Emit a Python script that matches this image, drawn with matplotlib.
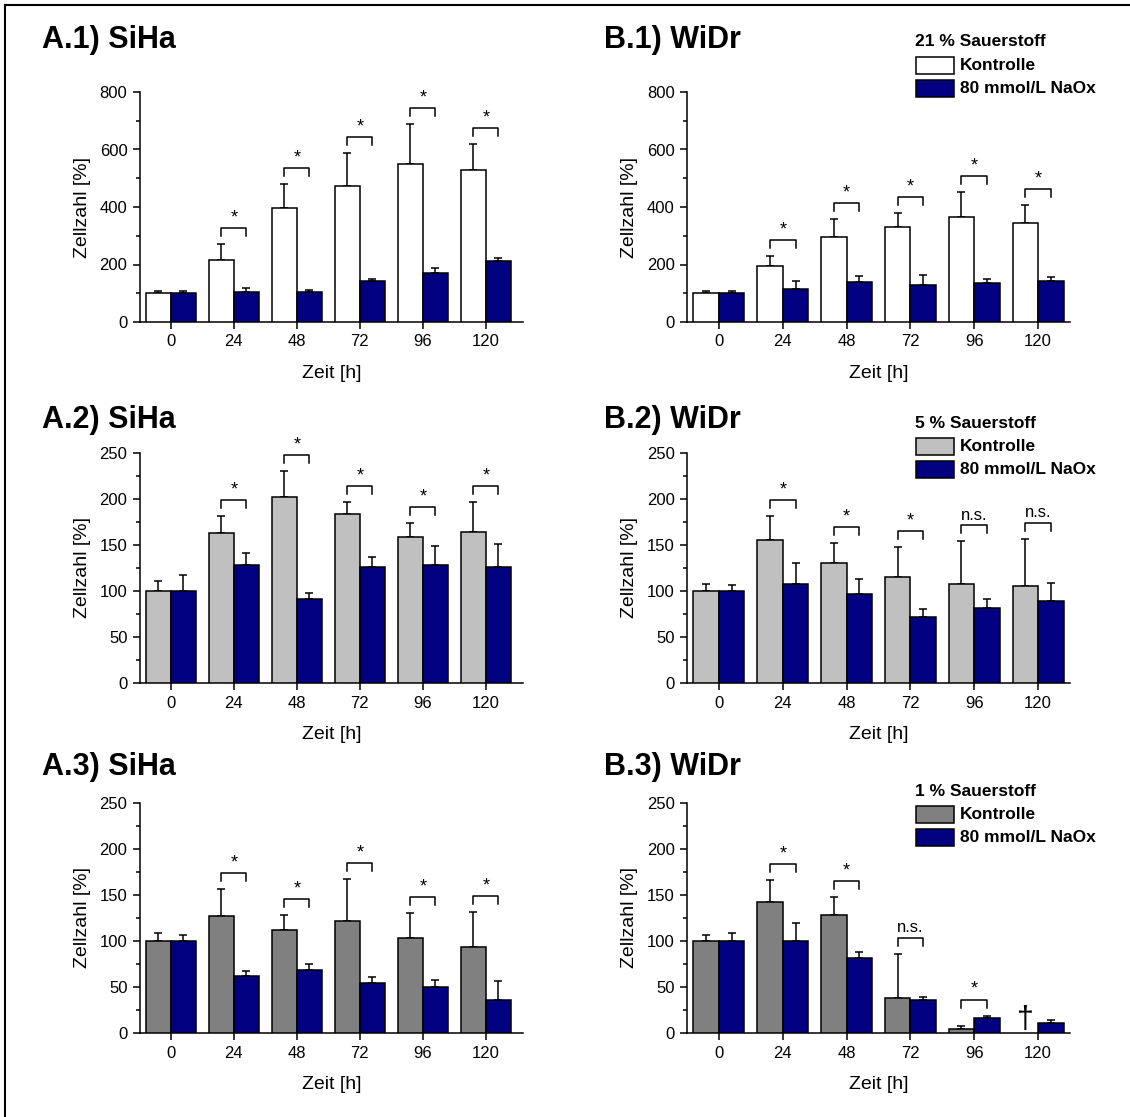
"""Zellzahl von SiHa und WiDr unter NaOx bei 21 %, 5 % und 1 % Sauerstoff."""

import numpy as np
import matplotlib

matplotlib.use("Agg")
import matplotlib.pyplot as plt
from matplotlib.lines import Line2D
from matplotlib.patches import Rectangle
from matplotlib.ticker import MultipleLocator

plt.rcParams["font.family"] = ["Liberation Sans", "DejaVu Sans"]

hours = ["0", "24", "48", "72", "96", "120"]

# A.1) SiHa, 21 % O2
siha21_ctrl = [100, 217, 398, 474, 550, 530]
siha21_ctrl_sd = [7, 54, 81, 114, 139, 89]
siha21_naox = [100, 105, 105, 141, 170, 212]
siha21_naox_sd = [9, 13, 5, 10, 18, 11]
siha21_sig = ["", "*", "*", "*", "*", "*"]

# B.1) WiDr, 21 % O2
widr21_ctrl = [100, 196, 294, 332, 364, 345]
widr21_ctrl_sd = [7, 32, 63, 46, 87, 61]
widr21_naox = [100, 116, 140, 128, 136, 141]
widr21_naox_sd = [9, 26, 20, 34, 15, 14]
widr21_sig = ["", "*", "*", "*", "*", "*"]

# A.2) SiHa, 5 % O2
siha5_ctrl = [100, 163, 202, 184, 159, 164]
siha5_ctrl_sd = [11, 18, 28, 13, 15, 33]
siha5_naox = [100, 128, 91, 126, 128, 126]
siha5_naox_sd = [17, 13, 7, 11, 21, 25]
siha5_sig = ["", "*", "*", "*", "*", "*"]

# B.2) WiDr, 5 % O2
widr5_ctrl = [100, 155, 130, 115, 108, 105]
widr5_ctrl_sd = [8, 26, 22, 33, 46, 52]
widr5_naox = [100, 108, 97, 72, 81, 89]
widr5_naox_sd = [7, 22, 16, 8, 10, 20]
widr5_sig = ["", "*", "*", "*", "n.s.", "n.s."]

# A.3) SiHa, 1 % O2
siha1_ctrl = [100, 127, 112, 122, 103, 93]
siha1_ctrl_sd = [9, 30, 16, 45, 27, 39]
siha1_naox = [100, 62, 68, 54, 50, 36]
siha1_naox_sd = [6, 5, 7, 7, 8, 20]
siha1_sig = ["", "*", "*", "*", "*", "*"]

# B.3) WiDr, 1 % O2 (Kontrolle bei 120 h abgestorben)
widr1_ctrl = [100, 142, 128, 38, 4, np.nan]
widr1_ctrl_sd = [6, 24, 20, 48, 4, np.nan]
widr1_naox = [100, 100, 81, 36, 16, 11]
widr1_naox_sd = [9, 20, 7, 3, 3, 3]
widr1_sig = ["", "*", "*", "n.s.", "*", ""]
widr1_dead = [False, False, False, False, False, True]

NAVY = "#000080"
W, H = 1130, 1117
BAR_W = 0.4


def fx(px):
    return px / W


def fy(py):
    return 1 - py / H


def make_axes(fig, left, right, top, bottom):
    return fig.add_axes([fx(left), fy(bottom), fx(right - left), (bottom - top) / H])


def draw_panel(ax, ctrl, ctrl_sd, naox, naox_sd, sig, ctrl_color, ymax, ystep, xlim, dead=None):
    x = np.arange(len(hours))
    ctrl = np.asarray(ctrl, float)
    naox = np.asarray(naox, float)
    ctrl_sd = np.asarray(ctrl_sd, float)
    naox_sd = np.asarray(naox_sd, float)

    ok = ~np.isnan(ctrl)
    ax.bar(x[ok] - BAR_W / 2, ctrl[ok], BAR_W, color=ctrl_color,
           edgecolor="black", linewidth=1.1, zorder=3)
    ax.bar(x + BAR_W / 2, naox, BAR_W, color=NAVY,
           edgecolor="black", linewidth=1.1, zorder=3)
    ax.errorbar(x[ok] - BAR_W / 2, ctrl[ok], yerr=[np.zeros(ok.sum()), ctrl_sd[ok]],
                fmt="none", ecolor="black", elinewidth=1.1, capsize=3.2, capthick=1.1, zorder=2)
    ax.errorbar(x + BAR_W / 2, naox, yerr=[np.zeros(len(x)), naox_sd],
                fmt="none", ecolor="black", elinewidth=1.1, capsize=3.2, capthick=1.1, zorder=2)

    # significance brackets
    unit = ymax / 230.0  # data units per pixel
    for i, s in enumerate(sig):
        if not s:
            continue
        tops = [naox[i] + naox_sd[i]]
        if ok[i]:
            tops.append(ctrl[i] + ctrl_sd[i])
        top = max(tops) + 16 * unit
        leg = 8 * unit
        ax.plot([i - BAR_W / 2, i - BAR_W / 2, i + BAR_W / 2, i + BAR_W / 2],
                [top - leg, top, top, top - leg], color="black", lw=1.1,
                clip_on=False, zorder=4)
        ax.annotate(s, (i, top), xytext=(0, 4), textcoords="offset points",
                    ha="center", va="baseline", fontsize=13 if s == "*" else 12)

    if dead is not None:
        for i, d in enumerate(dead):
            if d:
                ax.text(i - BAR_W / 2, -2 * unit, "\u2020", ha="center", va="bottom",
                        fontsize=22, zorder=4, clip_on=False)

    ax.set_xlim(*xlim)
    ax.set_ylim(0, ymax)
    ax.set_xticks(x)
    ax.set_xticklabels(hours)
    ax.yaxis.set_major_locator(MultipleLocator(ystep))
    ax.yaxis.set_minor_locator(MultipleLocator(ystep / 2))
    for side in ("top", "right"):
        ax.spines[side].set_visible(False)
    for side in ("left", "bottom"):
        ax.spines[side].set_linewidth(1.1)
    ax.tick_params(which="major", direction="out", length=5, width=1.1,
                   labelsize=12, pad=4)
    ax.tick_params(which="minor", direction="out", length=3, width=1.1)
    ax.tick_params(axis="x", which="minor", bottom=False)
    ax.set_xlabel("Zeit [h]", fontsize=14, labelpad=11)
    ax.set_ylabel("Zellzahl [%]", fontsize=14, labelpad=6)


def draw_legend(fig, title, ctrl_color, top):
    fig.text(fx(915), fy(top), title, fontsize=12.5, fontweight="bold",
             ha="left", va="center")
    for k, (color, label) in enumerate([(ctrl_color, "Kontrolle"),
                                         (NAVY, "80 mmol/L NaOx")]):
        y0 = top + 15 + k * 23
        fig.patches.append(Rectangle((fx(916), fy(y0 + 17)), fx(38), 17 / H,
                                     transform=fig.transFigure, facecolor=color,
                                     edgecolor="black", linewidth=1.1))
        fig.text(fx(960), fy(y0 + 8.5), label, fontsize=12.5, fontweight="bold",
                 ha="left", va="center")


fig = plt.figure(figsize=(W / 100, H / 100), dpi=100)

rows = [(92, 322), (453, 683), (803, 1033)]
xlim_a = (-0.49, 5.59)
xlim_b = (-0.50, 5.50)

panels = [
    ("A.1) SiHa", (140, 523), rows[0], xlim_a, siha21_ctrl, siha21_ctrl_sd, siha21_naox,
     siha21_naox_sd, siha21_sig, "white", 800, 200, None),
    ("B.1) WiDr", (687, 1070), rows[0], xlim_b, widr21_ctrl, widr21_ctrl_sd, widr21_naox,
     widr21_naox_sd, widr21_sig, "white", 800, 200, None),
    ("A.2) SiHa", (140, 523), rows[1], xlim_a, siha5_ctrl, siha5_ctrl_sd, siha5_naox,
     siha5_naox_sd, siha5_sig, "#c0c0c0", 250, 50, None),
    ("B.2) WiDr", (687, 1070), rows[1], xlim_b, widr5_ctrl, widr5_ctrl_sd, widr5_naox,
     widr5_naox_sd, widr5_sig, "#c0c0c0", 250, 50, None),
    ("A.3) SiHa", (140, 523), rows[2], xlim_a, siha1_ctrl, siha1_ctrl_sd, siha1_naox,
     siha1_naox_sd, siha1_sig, "#808080", 250, 50, None),
    ("B.3) WiDr", (687, 1070), rows[2], xlim_b, widr1_ctrl, widr1_ctrl_sd, widr1_naox,
     widr1_naox_sd, widr1_sig, "#808080", 250, 50, widr1_dead),
]

title_y = [40, 420, 767]
for k, (title, (left, right), (top, bottom), xlim, c, csd, n, nsd, sig, col, ymax, ystep, dead) in enumerate(panels):
    ax = make_axes(fig, left, right, top, bottom)
    draw_panel(ax, c, csd, n, nsd, sig, col, ymax, ystep, xlim, dead)
    tx = 42 if title.startswith("A") else 604
    fig.text(fx(tx), fy(title_y[k // 2]), title, fontsize=22, fontweight="bold",
             ha="left", va="center")

draw_legend(fig, "21 % Sauerstoff", "white", 42)
draw_legend(fig, "5 % Sauerstoff", "#c0c0c0", 423)
draw_legend(fig, "1 % Sauerstoff", "#808080", 791)

# frame (only left and top edge visible in the crop)
fig.add_artist(Line2D([fx(5), fx(5)], [fy(5), 0], transform=fig.transFigure,
                      color="black", lw=1.5))
fig.add_artist(Line2D([fx(5), 1], [fy(5), fy(5)], transform=fig.transFigure,
                      color="black", lw=1.5))

fig.savefig("out.png", dpi=100)
